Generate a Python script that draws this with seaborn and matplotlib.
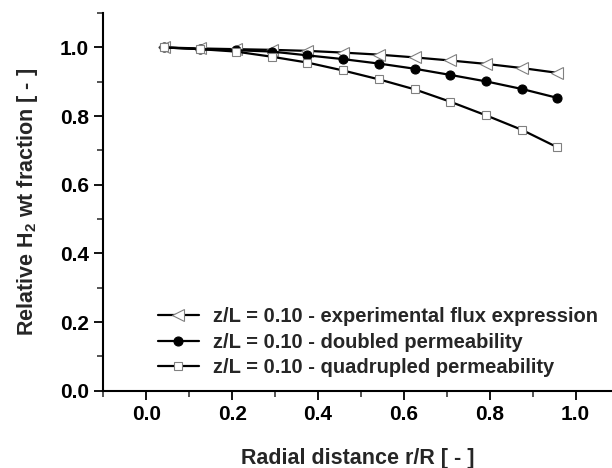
import matplotlib
matplotlib.use("Agg")
import matplotlib.pyplot as plt
import seaborn as sns
import pandas as pd
from matplotlib.ticker import MultipleLocator

sns.set_style("ticks")
plt.rcParams['font.family'] = ['Liberation Sans', 'DejaVu Sans']
plt.rcParams['mathtext.default'] = 'regular'

r = [0.042, 0.125, 0.208, 0.292, 0.375, 0.458, 0.542, 0.625, 0.708, 0.792, 0.875, 0.958]
experimental = [1.000, 0.997, 0.995, 0.993, 0.990, 0.985, 0.979, 0.971, 0.962, 0.952, 0.940, 0.926]
doubled = [1.000, 0.995, 0.992, 0.988, 0.977, 0.966, 0.953, 0.938, 0.920, 0.901, 0.879, 0.853]
quadrupled = [1.000, 0.995, 0.988, 0.973, 0.956, 0.933, 0.907, 0.878, 0.842, 0.802, 0.760, 0.709]
labels = ["z/L = 0.10 - experimental flux expression",
          "z/L = 0.10 - doubled permeability",
          "z/L = 0.10 - quadrupled permeability"]

fig = plt.figure(figsize=(6.12, 4.68), dpi=100)
ax = fig.add_axes([0.169, 0.165, 0.831, 0.807])

styles = [
    dict(marker='<', markersize=8, markerfacecolor='white', markeredgecolor='#808080', markeredgewidth=0.8),
    dict(marker='o', markersize=6.5, markerfacecolor='black', markeredgecolor='black', markeredgewidth=0.8),
    dict(marker='s', markersize=6, markerfacecolor='white', markeredgecolor='#808080', markeredgewidth=0.8),
]
for vals, lab, st in zip([experimental, doubled, quadrupled], labels, styles):
    df = pd.DataFrame({"r": r, "y": vals})
    sns.lineplot(data=df, x="r", y="y", ax=ax, color='black', linewidth=1.6,
                 label=lab, **st)

ax.set_xlim(-0.1, 1.085)
ax.set_ylim(0, 1.1)
ax.xaxis.set_minor_locator(MultipleLocator(0.1))
ax.yaxis.set_minor_locator(MultipleLocator(0.1))
ax.set_xticks([0.0, 0.2, 0.4, 0.6, 0.8, 1.0])
ax.set_xticklabels(["0.0", "0.2", "0.4", "0.6", "0.8", "1.0"])
ax.set_yticks([0.0, 0.2, 0.4, 0.6, 0.8, 1.0])
ax.set_yticklabels(["0.0", "0.2", "0.4", "0.6", "0.8", "1.0"])

for s in ['top', 'right']:
    ax.spines[s].set_visible(False)
for s in ['left', 'bottom']:
    ax.spines[s].set_linewidth(1.5)
    ax.spines[s].set_color('black')
ax.tick_params(which='major', direction='out', length=6.5, width=1.3, labelsize=15, pad=4, colors='black')
ax.tick_params(which='minor', direction='out', length=4, width=1.1)
for t in ax.get_xticklabels() + ax.get_yticklabels():
    t.set_fontweight('bold')

ax.set_xlabel("Radial distance r/R [ - ]", fontsize=15.5, fontweight='bold', labelpad=17)
ax.set_ylabel("Relative H$_2$ wt fraction [ - ]", fontsize=15.5, fontweight='bold', labelpad=14)

leg = ax.legend(loc='lower left', bbox_to_anchor=(0.092, 0.014), frameon=False,
                prop={'weight': 'bold', 'size': 14.5}, handlelength=2.0,
                labelspacing=0.33, handletextpad=0.7, borderaxespad=0)

fig.savefig("out.png", dpi=100)
